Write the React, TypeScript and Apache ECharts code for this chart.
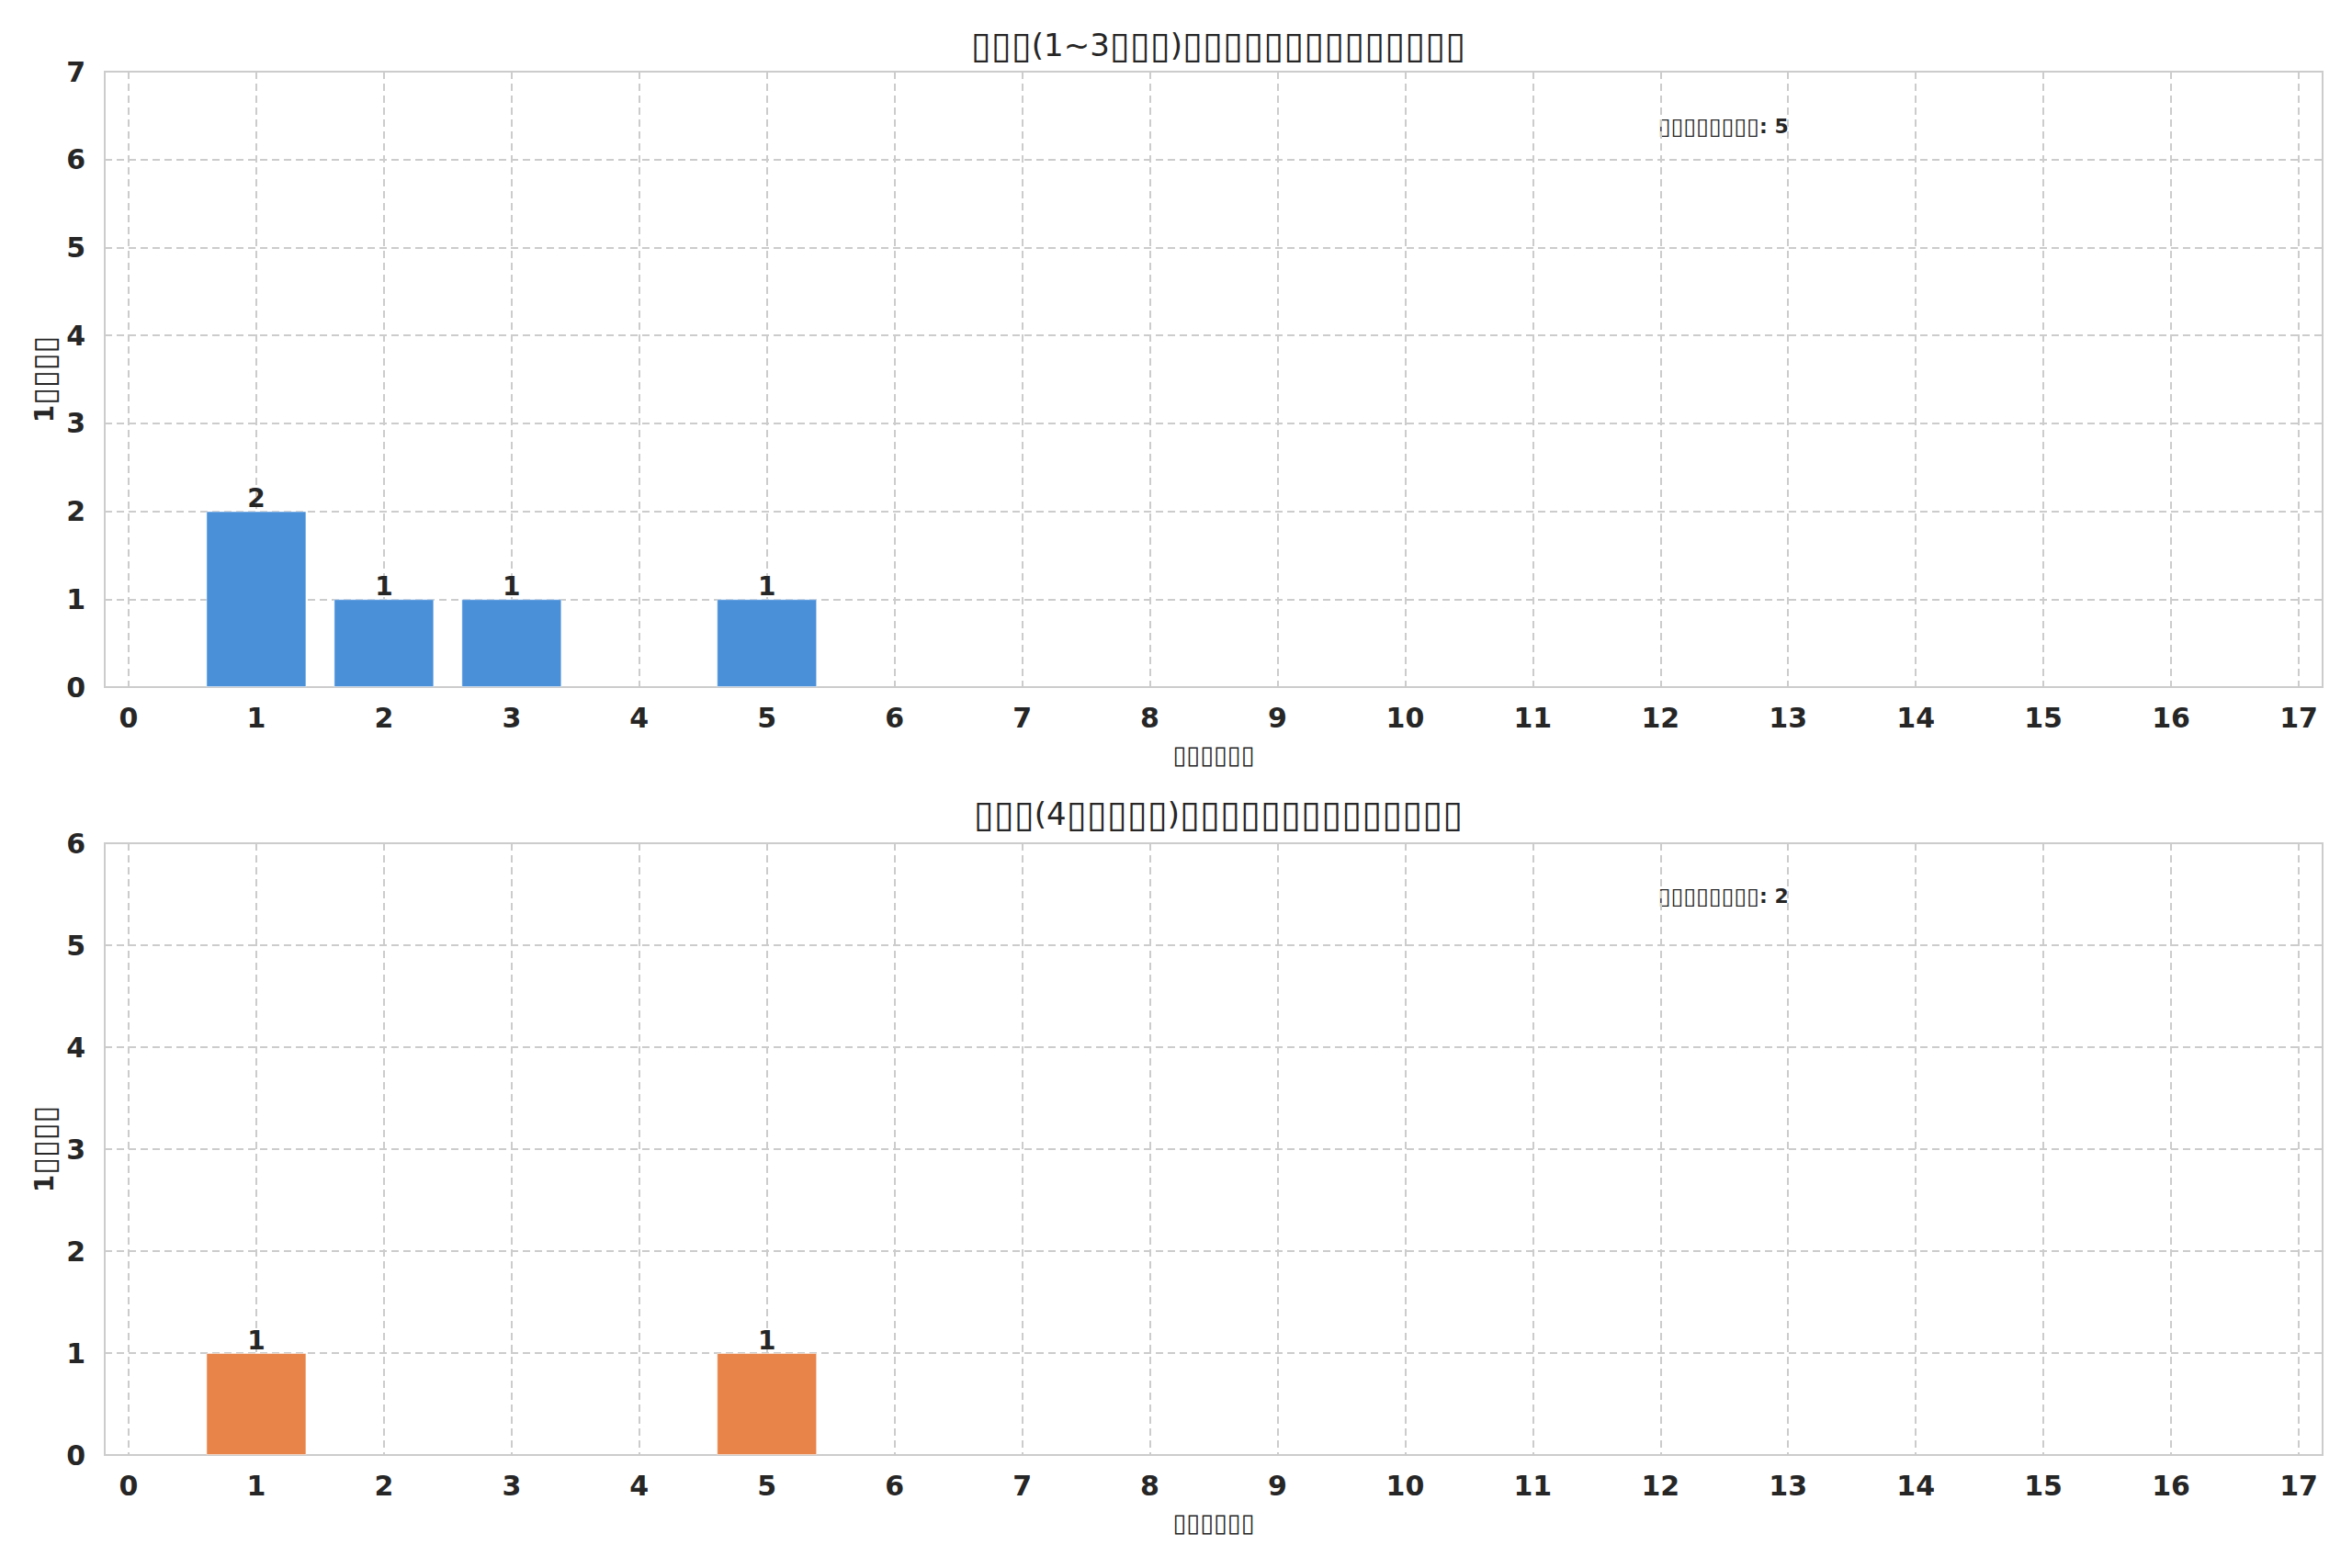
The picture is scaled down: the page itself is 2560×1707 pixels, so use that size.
import React, { useEffect, useRef } from "react";
import * as echarts from "echarts";

// ---- data ----
const xValues = [0, 1, 2, 3, 4, 5, 6, 7, 8, 9, 10, 11, 12, 13, 14, 15, 16, 17];
const topCounts = [0, 2, 1, 1, 0, 1, 0, 0, 0, 0, 0, 0, 0, 0, 0, 0, 0, 0];
const bottomCounts = [0, 1, 0, 0, 0, 1, 0, 0, 0, 0, 0, 0, 0, 0, 0, 0, 0, 0];
const topTitle = "▯▯▯(1~3▯▯▯)▯▯▯▯▯▯▯▯▯▯▯▯▯▯";
const bottomTitle = "▯▯▯(4▯▯▯▯▯)▯▯▯▯▯▯▯▯▯▯▯▯▯▯";
const xName = "▯▯▯▯▯▯";
const yName = "1▯▯▯▯";
const topNote = "▯▯▯▯▯▯▯▯: 5";
const bottomNote = "▯▯▯▯▯▯▯▯: 2";
const topYMax = 7;
const bottomYMax = 6;

const TEXT = "#262626";
const GRIDC = "#cccccc";
const FONT = "DejaVu Sans";

// wrap runs of box glyphs in a rich-text style
function richify(s: string): string {
  return s.replace(/(▯+)/g, "{b|$1}");
}

export default function App() {
  const ref = useRef<HTMLDivElement>(null);
  useEffect(() => {
    document.body.style.margin = "0";
    const chart = echarts.init(ref.current!, undefined, { renderer: "svg" });

    const frameL = 114, frameR = 2528, innerL = 140, innerR = 2502;
    const panels = [
      { top: 78, bottom: 748, ymax: topYMax, data: topCounts, color: "#4a90d9", title: topTitle, note: topNote, titleTop: 24 },
      { top: 918, bottom: 1584, ymax: bottomYMax, data: bottomCounts, color: "#e8844a", title: bottomTitle, note: bottomNote, titleTop: 861 },
    ];

    const grid: any[] = [];
    const xAxis: any[] = [];
    const yAxis: any[] = [];
    const series: any[] = [];
    const graphic: any[] = [];
    const title: any[] = [];

    panels.forEach((p, i) => {
      const h = p.bottom - p.top;
      grid.push({ left: frameL, width: frameR - frameL, top: p.top, height: h, show: true, borderColor: GRIDC, borderWidth: 2, backgroundColor: "transparent" });
      grid.push({ left: innerL, width: innerR - innerL, top: p.top, height: h });
      const gA = i * 2, gB = i * 2 + 1;
      xAxis.push({ type: "value", gridIndex: gA, min: -0.187, max: 17.187, show: false });
      yAxis.push({
        type: "value", gridIndex: gA, min: 0, max: p.ymax, interval: 1,
        axisLine: { show: false }, axisTick: { show: false },
        axisLabel: { fontFamily: FONT, fontWeight: "bold", fontSize: 30, color: TEXT, margin: 21 },
        splitLine: { show: true, lineStyle: { color: GRIDC, width: 2, type: [8, 5] } },
      });
      xAxis.push({
        type: "value", gridIndex: gB, min: 0, max: 17, interval: 1,
        axisLine: { show: false }, axisTick: { show: false },
        axisLabel: { fontFamily: FONT, fontWeight: "bold", fontSize: 30, color: TEXT, margin: 18 },
        splitLine: { show: true, lineStyle: { color: GRIDC, width: 2, type: [8, 5] } },
      });
      yAxis.push({ type: "value", gridIndex: gB, min: 0, max: p.ymax, interval: 1, show: false, splitLine: { show: false } });
      series.push({
        type: "bar",
        xAxisIndex: gB,
        yAxisIndex: gB,
        barWidth: 109,
        data: xValues.map((x, k) => [x, p.data[k] === 0 ? "-" : p.data[k]]),
        itemStyle: { color: p.color, borderColor: "rgba(255,255,255,0.5)", borderWidth: 1 },
        label: {
          show: true, position: "top", distance: 0,
          fontFamily: FONT, fontWeight: "bold", fontSize: 28, color: TEXT,
          formatter: (v: any) => String(v.value[1]),
        },
        z: 3,
      });
      title.push({
        text: richify(p.title), left: (frameL + frameR) / 2, top: p.titleTop, textAlign: "center",
        textStyle: {
          fontFamily: FONT, fontWeight: "normal", fontSize: 34, color: TEXT,
          rich: { b: { fontFamily: FONT, fontSize: 40, color: TEXT } },
        },
      });
      graphic.push({
        type: "text", x: 1805, y: p.top + (i === 0 ? 59 : 57),
        style: {
          text: richify(p.note), fontFamily: FONT, fontWeight: "bold", fontSize: 22, fill: TEXT,
          textVerticalAlign: "middle", textAlign: "left",
          rich: { b: { fontFamily: FONT, fontWeight: "normal", fontSize: 25, fill: TEXT } },
        },
      });
      graphic.push({
        type: "text", x: (frameL + frameR) / 2, y: p.bottom + 73,
        style: {
          text: richify(xName), fontFamily: FONT, fontWeight: "bold", fontSize: 27, fill: TEXT,
          textVerticalAlign: "middle", textAlign: "center",
          rich: { b: { fontFamily: FONT, fontWeight: "normal", fontSize: 27, fill: TEXT } },
        },
      });
      graphic.push({
        type: "text", x: 48, y: (p.top + p.bottom) / 2, rotation: Math.PI / 2,
        style: {
          text: richify(yName), fontFamily: FONT, fontWeight: "bold", fontSize: 28, fill: TEXT,
          textVerticalAlign: "middle", textAlign: "center",
          rich: { b: { fontFamily: FONT, fontWeight: "normal", fontSize: 34, fill: TEXT } },
        },
      });
    });

    chart.setOption({
      animation: false,
      backgroundColor: "#ffffff",
      textStyle: { fontFamily: FONT },
      title,
      grid,
      xAxis,
      yAxis,
      series,
      graphic,
    });
    return () => chart.dispose();
  }, []);
  return <div ref={ref} style={{ position: "absolute", left: 0, top: 0, width: 2560, height: 1707 }} />;
}
